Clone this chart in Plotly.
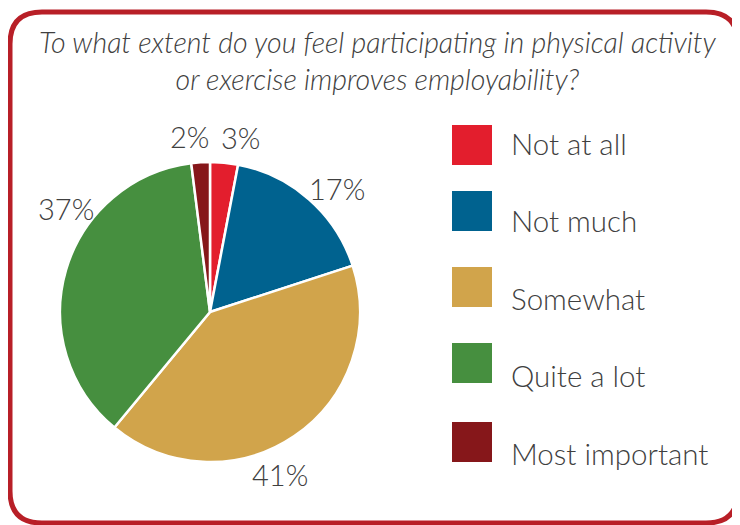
import numpy as np
import plotly.graph_objects as go

categories = ["Not at all", "Not much", "Somewhat", "Quite a lot", "Most important"]
values = [3, 17, 41, 37, 2]
colors = ["#E31E2D", "#00628F", "#D1A44B", "#468F3F", "#86171A"]
title_text = "To what extent do you feel participating in physical activity<br>or exercise improves employability?"

# layout-only settings
W, H = 740, 525
OFF = 8  # page body margin offset compensation
FONT = "Lato, Liberation Sans, sans-serif"
TXT = "#404040"
PIE_CX, PIE_CY, PIE_R = 210, 312, 150
LABEL_R = 177
label_nudge_deg = [4.6, 4.3, 11.0, 19.6, -3.2]
legend_box_tops = [125, 191, 267, 343, 422]
legend_text_y0, legend_text_step = 143, 77.5

def px(x):
    return (x - OFF) / W

def py(y):
    return 1 - (y - OFF) / H

fig = go.Figure()
fig.add_trace(go.Pie(
    labels=categories,
    values=values,
    marker=dict(colors=colors, line=dict(color="white", width=2.5)),
    sort=False,
    direction="clockwise",
    rotation=0,
    textinfo="none",
    showlegend=False,
    hoverinfo="label+percent",
    domain=dict(x=[px(PIE_CX - PIE_R), px(PIE_CX + PIE_R)],
                y=[py(PIE_CY + PIE_R), py(PIE_CY - PIE_R)]),
))

# rounded border
x0, y0, x1, y1, r = 10, 12, 738, 523, 32
path = (
    f"M {px(x0 + r)},{py(y0)} L {px(x1 - r)},{py(y0)} "
    f"Q {px(x1)},{py(y0)} {px(x1)},{py(y0 + r)} "
    f"L {px(x1)},{py(y1 - r)} Q {px(x1)},{py(y1)} {px(x1 - r)},{py(y1)} "
    f"L {px(x0 + r)},{py(y1)} Q {px(x0)},{py(y1)} {px(x0)},{py(y1 - r)} "
    f"L {px(x0)},{py(y0 + r)} Q {px(x0)},{py(y0)} {px(x0 + r)},{py(y0)} Z"
)
shapes = [dict(type="path", xref="paper", yref="paper", path=path,
               line=dict(color="#B81F27", width=5), layer="below")]

annotations = [dict(
    text=title_text, xref="paper", yref="paper", x=px(377), y=py(60),
    xanchor="center", yanchor="middle", showarrow=False, align="center",
    font=dict(family=FONT, size=28.5, color=TXT, style="italic", weight=300),
)]

# percentage labels placed around the pie from the slice angles
vals = np.array(values, dtype=float)
cum = np.cumsum(vals)
mid_deg = (cum - vals / 2) / vals.sum() * 360 + np.array(label_nudge_deg)
for v, a in zip(values, np.radians(mid_deg)):
    lx = PIE_CX + LABEL_R * np.sin(a)
    ly = PIE_CY - LABEL_R * np.cos(a)
    annotations.append(dict(text=f"{v}%", xref="paper", yref="paper",
                            x=px(lx), y=py(ly), xanchor="center", yanchor="middle",
                            showarrow=False,
                            font=dict(family=FONT, size=29, color=TXT, weight=300)))

# custom legend
for i, (cat, col) in enumerate(zip(categories, colors)):
    top = legend_box_tops[i]
    shapes.append(dict(type="rect", xref="paper", yref="paper",
                       x0=px(452), x1=px(492), y0=py(top), y1=py(top + 40),
                       fillcolor=col, line=dict(width=0)))
    annotations.append(dict(text=cat, xref="paper", yref="paper",
                            x=px(509), y=py(legend_text_y0 + i * legend_text_step),
                            xanchor="left", yanchor="middle", showarrow=False,
                            font=dict(family=FONT, size=29.5, color=TXT, weight=300)))

fig.update_layout(
    width=W, height=H, autosize=False,
    margin=dict(l=0, r=0, t=0, b=0, pad=0, autoexpand=False),
    paper_bgcolor="white", plot_bgcolor="white",
    shapes=shapes, annotations=annotations,
)

fig.write_html("out.html")
